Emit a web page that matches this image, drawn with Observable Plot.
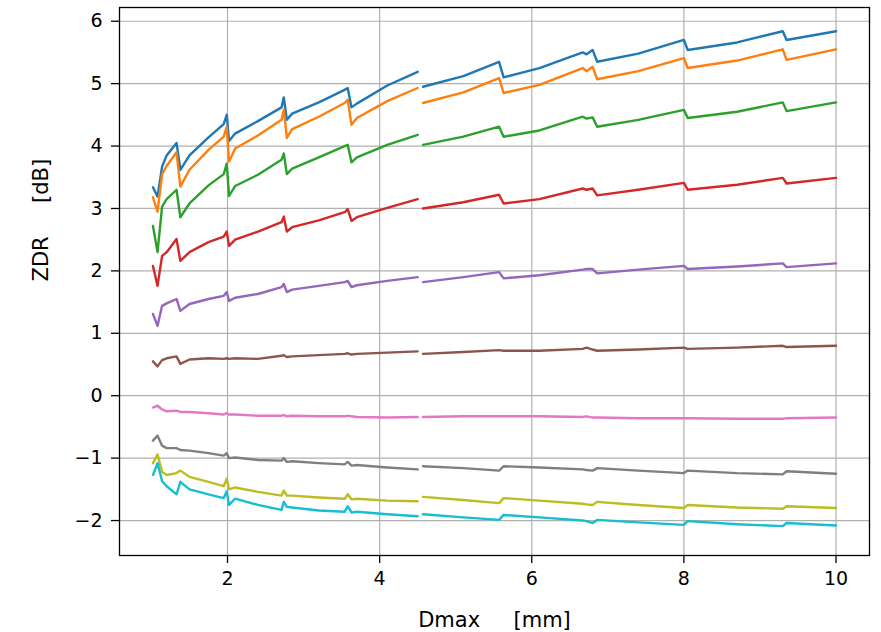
<!DOCTYPE html>
<html>
<head>
<meta charset="utf-8">
<script src="https://cdn.jsdelivr.net/npm/d3@7"></script>
<script src="https://cdn.jsdelivr.net/npm/@observablehq/plot@0.6"></script>
<style>
  html, body { margin: 0; padding: 0; background: white; }
</style>
</head>
<body>
<div id="chart"></div>
<script>
// Dmax sample positions (mm) — two segments, small gap near 4.5 mm
const xSeg1 = [1.02, 1.08, 1.14, 1.2, 1.33, 1.38, 1.5, 1.75, 1.95, 1.99, 2.02, 2.1, 2.4, 2.71, 2.74, 2.78, 2.85, 3.2, 3.54, 3.58, 3.63, 3.7, 4.1, 4.5];
const xSeg2 = [4.57, 5.1, 5.57, 5.63, 6.1, 6.67, 6.72, 6.8, 6.86, 7.4, 8.0, 8.05, 8.7, 9.3, 9.35, 10.0];

// ZDR values (dB) per series: segment 1 then segment 2
const s0 = [3.34, 3.19, 3.67, 3.85, 4.05, 3.62, 3.85, 4.14, 4.35, 4.5, 4.08, 4.2, 4.4, 4.62, 4.78, 4.42, 4.52, 4.7, 4.9, 4.93, 4.62, 4.68, 4.97, 5.19,
            4.95, 5.12, 5.35, 5.1, 5.25, 5.5, 5.47, 5.54, 5.35, 5.48, 5.7, 5.54, 5.66, 5.84, 5.7, 5.84];
const s1 = [3.18, 2.95, 3.55, 3.68, 3.9, 3.35, 3.62, 3.94, 4.15, 4.31, 3.75, 3.96, 4.17, 4.42, 4.58, 4.13, 4.27, 4.47, 4.69, 4.74, 4.34, 4.45, 4.72, 4.93,
            4.69, 4.86, 5.09, 4.85, 4.98, 5.25, 5.2, 5.27, 5.07, 5.2, 5.41, 5.25, 5.37, 5.55, 5.38, 5.55];
const s2 = [2.72, 2.3, 3.03, 3.15, 3.3, 2.86, 3.08, 3.37, 3.55, 3.72, 3.2, 3.36, 3.54, 3.78, 3.88, 3.55, 3.64, 3.82, 4.0, 4.02, 3.74, 3.82, 4.02, 4.18,
            4.02, 4.15, 4.31, 4.15, 4.25, 4.47, 4.44, 4.46, 4.31, 4.42, 4.58, 4.45, 4.55, 4.7, 4.56, 4.7];
const s3 = [2.08, 1.76, 2.24, 2.3, 2.51, 2.16, 2.3, 2.46, 2.55, 2.63, 2.4, 2.5, 2.63, 2.78, 2.87, 2.63, 2.7, 2.81, 2.94, 2.99, 2.8, 2.86, 3.01, 3.15,
            3.0, 3.1, 3.22, 3.08, 3.15, 3.32, 3.3, 3.32, 3.21, 3.3, 3.41, 3.3, 3.38, 3.49, 3.4, 3.49];
const s4 = [1.31, 1.12, 1.44, 1.48, 1.55, 1.36, 1.47, 1.55, 1.6, 1.66, 1.52, 1.57, 1.63, 1.74, 1.79, 1.66, 1.7, 1.76, 1.82, 1.84, 1.74, 1.77, 1.84, 1.9,
            1.82, 1.9, 1.98, 1.88, 1.93, 2.02, 2.03, 2.03, 1.96, 2.02, 2.08, 2.03, 2.07, 2.12, 2.06, 2.12];
const s5 = [0.55, 0.47, 0.57, 0.6, 0.63, 0.51, 0.58, 0.6, 0.59, 0.6, 0.59, 0.6, 0.59, 0.64, 0.65, 0.62, 0.63, 0.65, 0.67, 0.68, 0.66, 0.67, 0.69, 0.71,
            0.67, 0.7, 0.73, 0.72, 0.72, 0.75, 0.77, 0.74, 0.72, 0.74, 0.77, 0.75, 0.77, 0.8, 0.78, 0.8];
const s6 = [-0.19, -0.16, -0.22, -0.25, -0.24, -0.26, -0.26, -0.28, -0.3, -0.28, -0.3, -0.3, -0.32, -0.32, -0.31, -0.33, -0.32, -0.33, -0.33, -0.32, -0.33, -0.34, -0.35, -0.34,
            -0.34, -0.33, -0.33, -0.33, -0.33, -0.34, -0.33, -0.35, -0.35, -0.36, -0.36, -0.36, -0.37, -0.37, -0.36, -0.35];
const s7 = [-0.72, -0.64, -0.8, -0.84, -0.84, -0.87, -0.88, -0.92, -0.96, -0.92, -1.0, -0.99, -1.03, -1.04, -1.0, -1.06, -1.05, -1.08, -1.1, -1.06, -1.12, -1.11, -1.15, -1.18,
            -1.13, -1.16, -1.2, -1.13, -1.15, -1.18, -1.19, -1.2, -1.16, -1.2, -1.24, -1.2, -1.24, -1.26, -1.21, -1.25];
const s8 = [-1.08, -0.94, -1.22, -1.27, -1.24, -1.2, -1.3, -1.38, -1.45, -1.33, -1.5, -1.47, -1.54, -1.6, -1.52, -1.6, -1.6, -1.63, -1.65, -1.58, -1.66, -1.65, -1.68, -1.69,
            -1.62, -1.67, -1.72, -1.64, -1.68, -1.73, -1.74, -1.75, -1.7, -1.75, -1.8, -1.75, -1.79, -1.81, -1.77, -1.8];
const s9 = [-1.27, -1.08, -1.37, -1.45, -1.58, -1.38, -1.5, -1.58, -1.64, -1.53, -1.75, -1.65, -1.75, -1.83, -1.7, -1.78, -1.79, -1.84, -1.86, -1.77, -1.87, -1.86, -1.9, -1.93,
            -1.9, -1.95, -1.99, -1.91, -1.95, -2.0, -2.01, -2.04, -1.99, -2.03, -2.07, -2.01, -2.06, -2.09, -2.04, -2.08];

const seriesNames = ["s0", "s1", "s2", "s3", "s4", "s5", "s6", "s7", "s8", "s9"];
const seriesValues = [s0, s1, s2, s3, s4, s5, s6, s7, s8, s9];
const seriesColors = ["#1f77b4", "#ff7f0e", "#2ca02c", "#d62728", "#9467bd", "#8c564b", "#e377c2", "#7f7f7f", "#bcbd22", "#17becf"];

const xTicks = [2, 4, 6, 8, 10];
const yTicks = [-2, -1, 0, 1, 2, 3, 4, 5, 6];
const xLabel = "Dmax\u00a0\u00a0\u00a0\u00a0\u00a0[mm]";
const yLabel = "ZDR\u00a0\u00a0\u00a0\u00a0\u00a0[dB]";

const xs = xSeg1.concat(xSeg2);
const rows = [];
seriesNames.forEach((name, si) => {
  seriesValues[si].forEach((v, i) => {
    rows.push({series: name, seg: i < xSeg1.length ? 0 : 1, x: xs[i], y: v});
  });
});

const fmt = d => (d < 0 ? "\u2212" + Math.abs(d) : String(d));

const chart = Plot.plot({
  width: 881,
  height: 632,
  marginLeft: 119,
  marginRight: 12,
  marginTop: 7,
  marginBottom: 77,
  style: {fontFamily: "DejaVu Sans", fontSize: "19px", background: "white", color: "#000"},
  x: {domain: [0.58, 10.44], label: null},
  y: {domain: [-2.56, 6.22], label: null},
  color: {type: "ordinal", domain: seriesNames, range: seriesColors},
  marks: [
    Plot.gridX(xTicks, {stroke: "#b0b0b0", strokeOpacity: 1, strokeWidth: 1.2}),
    Plot.gridY(yTicks, {stroke: "#b0b0b0", strokeOpacity: 1, strokeWidth: 1.2}),
    Plot.line(rows, {x: "x", y: "y", z: d => d.series + "-" + d.seg, stroke: "series", strokeWidth: 2.4, strokeLinejoin: "round"}),
    Plot.frame({stroke: "#000", strokeWidth: 1.3}),
    Plot.axisX(xTicks, {tickSize: 8, tickPadding: 8, tickFormat: fmt, strokeWidth: 1.3, fontSize: 19}),
    Plot.axisY(yTicks, {tickSize: 8, tickPadding: 9, tickFormat: fmt, strokeWidth: 1.3, fontSize: 19}),
    Plot.text([xLabel], {frameAnchor: "bottom", dy: 71, lineAnchor: "bottom", text: d => d, fontSize: 21}),
    Plot.text([yLabel], {frameAnchor: "left", dx: -72, rotate: -90, lineAnchor: "bottom", text: d => d, fontSize: 21})
  ]
});
document.getElementById("chart").appendChild(chart);
</script>
</body>
</html>
